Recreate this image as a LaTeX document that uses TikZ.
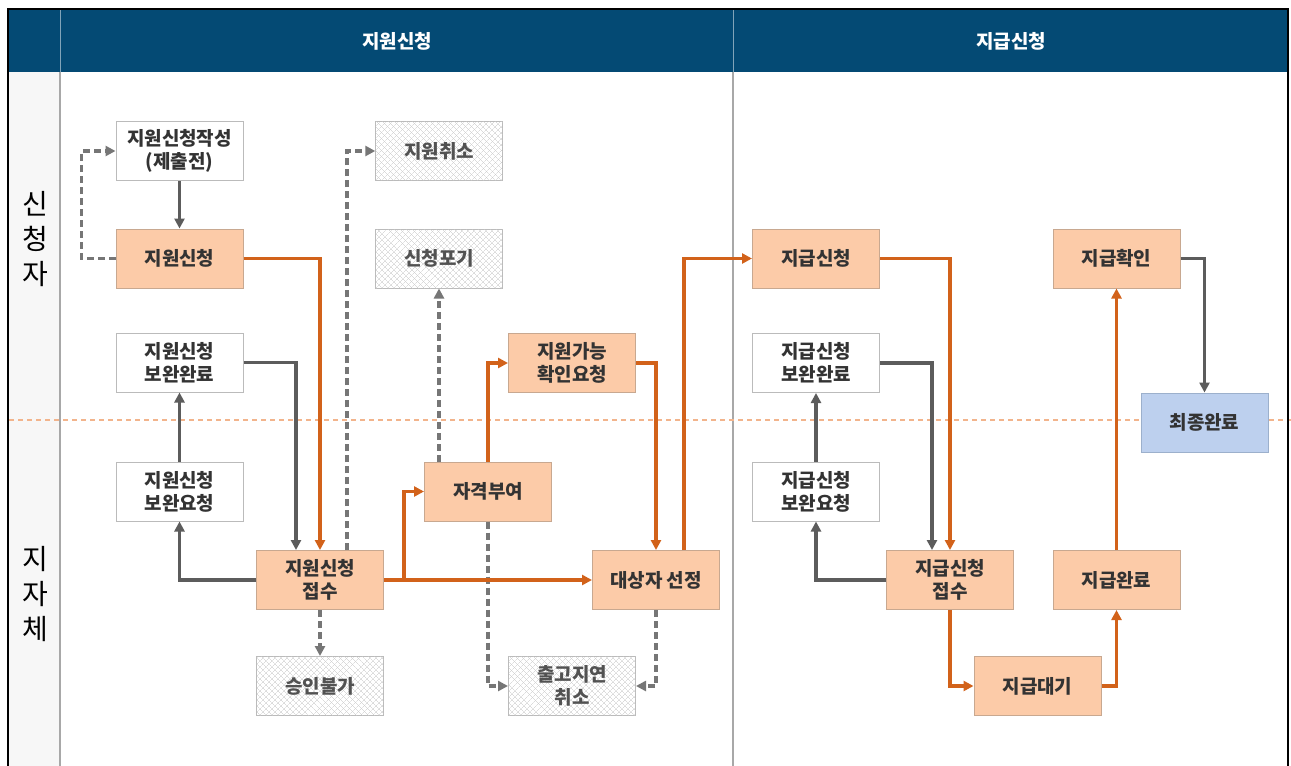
\documentclass[tikz,border=0pt]{standalone}
\usepackage{fontspec}
\setmainfont{Noto Sans CJK KR}
\usetikzlibrary{arrows.meta,patterns.meta}
\definecolor{navy}{HTML}{044A74}
\definecolor{lanegray}{HTML}{F7F7F7}
\definecolor{divgray}{HTML}{A8A8A8}
\definecolor{ofill}{HTML}{FCCBA8}
\definecolor{oborder}{HTML}{C8A890}
\definecolor{wborder}{HTML}{BBBBBB}
\definecolor{bfill}{HTML}{BDD0EE}
\definecolor{bborder}{HTML}{9CB0CC}
\definecolor{oline}{HTML}{D2621A}
\definecolor{gline}{HTML}{5C5C5C}
\definecolor{dline}{HTML}{767676}
\definecolor{txt}{HTML}{333333}
\definecolor{hatch}{HTML}{C8C8C8}
\definecolor{midline}{HTML}{F2B48C}
\tikzset{
  box/.style={draw=wborder, line width=1pt, minimum width=127pt, minimum height=59pt,
    inner sep=0pt, align=center, text=txt,
    font=\bfseries\fontsize{19}{23}\selectfont},
  obox/.style={box, fill=ofill, draw=oborder},
  wbox/.style={box, fill=white},
  bbox/.style={box, fill=bfill, draw=bborder},
  hbox/.style={box, fill=white, text=txt!85,
    preaction={fill=white},
    pattern={Lines[angle=45,distance=4pt,line width=0.45pt]}, pattern color=hatch,
    postaction={pattern={Lines[angle=-45,distance=4pt,line width=0.45pt]}, pattern color=hatch}},
  tip/.style={-{Triangle[length=10pt,width=10pt]}},
  oarr/.style={tip, draw=oline, line width=3.5pt},
  garr/.style={tip, draw=gline, line width=3.5pt},
  darr/.style={tip, draw=dline, line width=3.5pt, dash pattern=on 7pt off 4pt},
  lane/.style={font=\fontsize{28}{35}\selectfont, text=black, align=center},
  head/.style={font=\bfseries\fontsize{19}{22}\selectfont, text=white}
}
\begin{document}
\begin{tikzpicture}[x=1pt,y=-1pt]
\useasboundingbox (0,0) rectangle (1291,766);
% backgrounds
\fill[white] (0,0) rectangle (1291,766);
\fill[lanegray] (9,72) rectangle (60,766);
\fill[navy] (9,10) rectangle (1287,72);
\draw[line width=1pt, color=navy!50!white] (60,10) -- (60,72);
\draw[line width=1pt, color=navy!50!white] (733,10) -- (733,72);
\draw[line width=1.5pt, divgray] (60,72) -- (60,766);
\draw[line width=1.5pt, divgray] (733,72) -- (733,766);
\draw[line width=1.2pt, midline, dash pattern=on 5pt off 4pt] (9,420) -- (1291,420);
\draw[line width=2pt, black] (8,766) -- (8,9) -- (1288,9) -- (1288,766);
% header and lanes
\node[head] (h1) at (397,41) {지원신청};
\node[head] (h2) at (1011,41) {지급신청};
\node[lane] (l1) at (35,239) {신\\청\\자};
\node[lane] (l2) at (35,594) {지\\자\\체};
% nodes
\node[wbox] (appwrite) at (179.5,151) {지원신청작성\\(제출전)};
\node[obox] (app) at (179.5,258.5) {지원신청};
\node[hbox] (cancel) at (439,151) {지원취소};
\node[hbox] (giveup) at (439,258.5) {신청포기};
\node[wbox] (suppdone) at (179.5,362.5) {지원신청\\보완완료};
\node[obox] (check) at (572,363) {지원가능\\확인요청};
\node[wbox] (supreq) at (179.5,491.5) {지원신청\\보완요청};
\node[obox] (qual) at (488,491.5) {자격부여};
\node[obox] (recv) at (320,580) {지원신청\\접수};
\node[obox] (select) at (656,580) {대상자 선정};
\node[hbox] (reject) at (320,686) {승인불가};
\node[hbox] (delay) at (572,686) {출고지연\\취소};
\node[obox] (pay) at (816,258.5) {지급신청};
\node[wbox] (paydone) at (816,363) {지급신청\\보완완료};
\node[wbox] (payreq) at (816,491.5) {지급신청\\보완요청};
\node[obox] (payrecv) at (950,580) {지급신청\\접수};
\node[obox] (payconf) at (1116.5,258.5) {지급확인};
\node[bbox] (final) at (1204.5,422.5) {최종완료};
\node[obox] (paycomp) at (1116.5,580) {지급완료};
\node[obox] (paywait) at (1037.5,686) {지급대기};
% connectors - left part
\draw[darr] (app.west) -- ++(-34,0) |- (appwrite.west);
\draw[garr] (appwrite.south) -- (app.north);
\draw[oarr] (app.east) -| (recv.north);
\draw[garr] (suppdone.east) -| ([xshift=-24pt]recv.north);
\draw[garr] (recv.west) -| (supreq.south);
\draw[garr] (supreq.north) -- (suppdone.south);
\draw[darr] ([xshift=27pt]recv.north) |- (cancel.west);
\draw[darr] (recv.south) -- (reject.north);
\draw[darr] (qual.north -| giveup.south) -- (giveup.south);
\draw[darr] (qual.south) |- (delay.west);
\draw[oarr] (recv.east) -- (select.west);
\draw[oarr] (recv.east) ++(20,0) |- (qual.west);
\draw[oarr] (qual.north) |- (check.west);
\draw[oarr] (check.east) -| (select.north);
\draw[darr] (select.south) |- (delay.east);
\draw[oarr] ([xshift=28pt]select.north) |- (pay.west);
% connectors - right part
\draw[oarr] (pay.east) -| (payrecv.north);
\draw[garr] (paydone.east) -| ([xshift=-18pt]payrecv.north);
\draw[garr] (payrecv.west) -| (payreq.south);
\draw[garr] (payreq.north) -- (paydone.south);
\draw[oarr] (payrecv.south) |- (paywait.west);
\draw[oarr] (paywait.east) -| (paycomp.south);
\draw[oarr] (paycomp.north) -- (payconf.south);
\draw[garr] (payconf.east) -| (final.north);
\end{tikzpicture}
\end{document}
